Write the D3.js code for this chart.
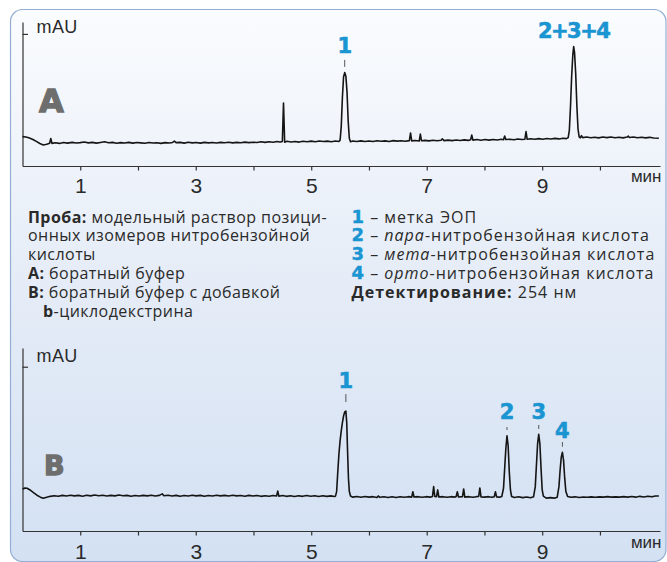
<!DOCTYPE html>
<html>
<head>
<meta charset="utf-8">
<script src="https://cdn.jsdelivr.net/npm/d3@7"></script>
<style>
body { margin: 0; background: #fff; }
svg { display: block; }
</style>
</head>
<body>
<script>
// ось времени, мин
var minuteTicks = [1, 2, 3, 4, 5, 6, 7, 8, 9, 10];
var minuteLabels = [1, 3, 5, 7, 9];

// электрофореграмма A (боратный буфер): [время, мAU]
var traceA = [
  [0.00, 22.2], [0.06, 22.0], [0.12, 21.2], [0.18, 20.1], [0.24, 18.6], [0.30, 17.0], [0.36, 15.9],
  [0.42, 16.5], [0.47, 17.2], [0.49, 20.8], [0.51, 17.1], [0.57, 17.6], [0.64, 17.1], [0.71, 17.8],
  [0.78, 17.3], [0.86, 17.9], [0.93, 17.4], [1.00, 17.7], [1.07, 18.2], [1.14, 17.5], [1.21, 17.9],
  [1.28, 17.3], [1.35, 17.8], [1.42, 18.3], [1.49, 17.6], [1.56, 17.9], [1.63, 17.2], [1.70, 17.7],
  [1.77, 17.4], [1.84, 17.9], [1.91, 17.3], [1.98, 17.8], [2.05, 17.5], [2.12, 17.2], [2.19, 17.8],
  [2.26, 17.4], [2.33, 17.6], [2.40, 17.1], [2.47, 17.7], [2.54, 17.4], [2.60, 17.8], [2.63, 18.8],
  [2.66, 17.7], [2.73, 17.9], [2.80, 17.3], [2.87, 18.0], [2.94, 17.5], [3.01, 17.8], [3.08, 17.3],
  [3.15, 17.9], [3.22, 17.5], [3.29, 17.8], [3.36, 17.4], [3.43, 17.9], [3.50, 17.6], [3.57, 18.0],
  [3.64, 17.5], [3.71, 17.9], [3.78, 17.6], [3.85, 18.1], [3.92, 17.7], [3.99, 18.0], [4.06, 17.8],
  [4.13, 18.3], [4.20, 17.9], [4.27, 18.4], [4.34, 18.0], [4.41, 18.6], [4.46, 18.1], [4.50, 18.5],
  [4.52, 47.7], [4.54, 18.0], [4.58, 18.7], [4.65, 18.2], [4.72, 18.6], [4.79, 18.1], [4.86, 18.7],
  [4.93, 18.3], [5.00, 18.8], [5.07, 18.4], [5.14, 18.9], [5.21, 18.5], [5.28, 18.8], [5.35, 18.4],
  [5.42, 18.9], [5.48, 18.6], [5.50, 19.5], [5.52, 30.0], [5.54, 52.0], [5.56, 67.5], [5.58, 70.7],
  [5.60, 68.0], [5.62, 56.0], [5.64, 34.0], [5.66, 21.0], [5.68, 18.4], [5.72, 18.9], [5.79, 18.5],
  [5.86, 19.0], [5.93, 18.6], [6.00, 18.9], [6.07, 18.5], [6.14, 19.1], [6.21, 18.7], [6.28, 19.0],
  [6.35, 18.6], [6.42, 19.2], [6.49, 18.8], [6.56, 19.1], [6.63, 18.7], [6.70, 19.2], [6.72, 25.0],
  [6.74, 19.0], [6.80, 19.3], [6.87, 18.9], [6.89, 24.2], [6.91, 19.1], [6.97, 19.4], [7.04, 19.0],
  [7.11, 19.5], [7.18, 19.1], [7.25, 19.5], [7.27, 20.6], [7.30, 19.2], [7.37, 19.6], [7.44, 19.2],
  [7.51, 19.7], [7.58, 19.3], [7.65, 19.8], [7.72, 19.4], [7.76, 19.8], [7.78, 23.5], [7.80, 19.6],
  [7.87, 20.0], [7.94, 19.5], [8.01, 20.0], [8.08, 19.6], [8.15, 20.1], [8.22, 19.7], [8.29, 20.2],
  [8.33, 19.9], [8.35, 22.7], [8.37, 20.0], [8.44, 20.3], [8.51, 19.9], [8.58, 20.4], [8.65, 20.0],
  [8.70, 20.3], [8.72, 26.0], [8.74, 20.2], [8.80, 20.6], [8.87, 20.2], [8.94, 20.7], [9.01, 20.3],
  [9.08, 20.8], [9.15, 20.4], [9.22, 20.9], [9.29, 20.5], [9.36, 21.0], [9.42, 20.7], [9.45, 21.5],
  [9.47, 27.0], [9.49, 45.0], [9.51, 68.0], [9.53, 84.0], [9.545, 90.4], [9.56, 86.0], [9.58, 70.0],
  [9.60, 46.0], [9.62, 28.0], [9.64, 22.0], [9.66, 21.3], [9.68, 23.0], [9.70, 21.5], [9.77, 21.9],
  [9.84, 21.4], [9.91, 21.8], [9.98, 21.3], [10.05, 21.9], [10.12, 21.5], [10.19, 21.9], [10.26, 21.4],
  [10.33, 21.8], [10.40, 21.3], [10.47, 21.9], [10.49, 22.6], [10.51, 21.6], [10.58, 21.9], [10.65, 21.4],
  [10.72, 21.8], [10.79, 21.3], [10.86, 21.7], [10.93, 21.2], [11.02, 21.0]
];

// электрофореграмма B (буфер с b-циклодекстрином): [время, мAU]
var traceB = [
  [0.00, 25.6], [0.04, 26.1], [0.08, 26.0], [0.13, 25.0], [0.19, 23.4], [0.25, 21.8], [0.31, 20.6],
  [0.36, 19.9], [0.42, 20.6], [0.48, 21.1], [0.55, 21.5], [0.62, 21.2], [0.69, 21.7], [0.76, 21.3],
  [0.83, 21.8], [0.90, 21.4], [0.97, 21.7], [1.04, 21.2], [1.11, 21.8], [1.18, 21.4], [1.25, 21.9],
  [1.32, 21.5], [1.39, 21.8], [1.46, 21.3], [1.53, 21.7], [1.60, 21.4], [1.67, 21.9], [1.74, 21.5],
  [1.81, 21.7], [1.88, 21.2], [1.95, 21.6], [2.02, 21.3], [2.09, 21.7], [2.16, 21.4], [2.23, 21.8],
  [2.30, 21.3], [2.37, 21.7], [2.42, 22.6], [2.45, 21.5], [2.52, 21.8], [2.59, 21.3], [2.66, 21.7],
  [2.73, 21.2], [2.80, 21.6], [2.87, 21.3], [2.94, 21.8], [3.01, 21.4], [3.08, 21.7], [3.15, 21.2],
  [3.22, 21.6], [3.29, 21.3], [3.36, 21.8], [3.43, 21.4], [3.50, 21.7], [3.57, 21.3], [3.64, 21.8],
  [3.71, 21.4], [3.78, 21.6], [3.85, 21.2], [3.92, 21.7], [3.99, 21.3], [4.06, 21.6], [4.13, 21.1],
  [4.20, 21.5], [4.27, 21.2], [4.34, 21.6], [4.40, 21.3], [4.42, 24.3], [4.44, 21.2], [4.50, 21.6],
  [4.57, 21.1], [4.64, 21.5], [4.71, 21.0], [4.78, 21.5], [4.85, 21.1], [4.92, 21.6], [4.99, 21.2],
  [5.06, 21.5], [5.13, 21.0], [5.20, 21.5], [5.27, 21.1], [5.34, 21.4], [5.40, 21.0], [5.42, 21.2],
  [5.44, 24.0], [5.46, 36.0], [5.48, 47.0], [5.50, 55.0], [5.52, 61.0], [5.54, 66.0], [5.56, 70.0],
  [5.58, 72.5], [5.60, 73.0], [5.615, 66.0], [5.63, 48.0], [5.645, 32.0], [5.66, 24.0], [5.68, 21.3],
  [5.72, 20.6], [5.79, 21.0], [5.86, 20.5], [5.93, 21.0], [6.00, 20.6], [6.07, 20.9], [6.14, 20.4],
  [6.16, 21.3], [6.19, 20.5], [6.26, 20.9], [6.33, 20.4], [6.40, 20.8], [6.47, 20.4], [6.54, 20.9],
  [6.61, 20.5], [6.68, 20.9], [6.74, 20.6], [6.76, 23.9], [6.78, 20.7], [6.85, 20.9], [6.92, 20.5],
  [6.99, 20.9], [7.06, 20.6], [7.10, 21.0], [7.12, 27.0], [7.14, 21.0], [7.17, 20.9], [7.19, 25.0],
  [7.21, 20.7], [7.28, 20.9], [7.35, 20.5], [7.42, 20.9], [7.49, 20.6], [7.51, 21.0], [7.53, 23.9],
  [7.55, 20.7], [7.62, 20.9], [7.64, 25.6], [7.66, 20.6], [7.73, 20.9], [7.80, 20.5], [7.86, 20.9],
  [7.90, 21.0], [7.92, 26.2], [7.94, 20.8], [8.00, 20.6], [8.07, 20.9], [8.13, 20.5], [8.17, 20.9],
  [8.19, 23.9], [8.21, 20.8], [8.26, 20.6], [8.30, 21.0], [8.33, 26.0], [8.35, 38.0], [8.37, 50.0],
  [8.39, 58.0], [8.41, 52.0], [8.43, 36.0], [8.45, 25.0], [8.47, 21.0], [8.52, 20.4], [8.59, 20.8],
  [8.66, 20.3], [8.73, 20.7], [8.80, 20.2], [8.85, 20.8], [8.88, 27.0], [8.90, 40.0], [8.92, 53.0],
  [8.94, 58.9], [8.96, 53.0], [8.98, 38.0], [9.00, 25.0], [9.02, 21.2], [9.07, 20.0], [9.14, 20.3],
  [9.21, 20.0], [9.26, 20.6], [9.29, 27.0], [9.31, 37.0], [9.33, 45.0], [9.35, 47.9], [9.37, 43.0],
  [9.39, 32.0], [9.41, 24.0], [9.44, 21.0], [9.50, 20.5], [9.57, 20.8], [9.64, 20.4], [9.71, 20.7],
  [9.78, 20.5], [9.85, 20.8], [9.92, 20.5], [9.99, 20.8], [10.06, 20.6], [10.13, 20.9], [10.20, 20.6],
  [10.27, 20.8], [10.34, 20.6], [10.41, 20.9], [10.48, 20.6], [10.55, 21.0], [10.62, 20.6], [10.69, 21.1],
  [10.76, 20.7], [10.83, 21.2], [10.90, 20.8], [10.96, 21.3], [11.02, 21.3]
];

// подписи пиков
var peakNamesA = ["1", "2+3+4"];
var peakTimesA = [5.58, 9.545];
var peakMauA = [70.7, 90.4];

var peakNamesB = ["1", "2", "3", "4"];
var peakTimesB = [5.60, 8.39, 8.94, 9.35];
var peakMauB = [73.0, 58.0, 58.9, 47.9];

// текст пояснений
var noteLeft = [
  [["b", "Проба:"], ["n", " модельный раствор позици-"]],
  [["n", "онных изомеров нитробензойной"]],
  [["n", "кислоты"]],
  [["b", "A:"], ["n", " боратный буфер"]],
  [["b", "B:"], ["n", " боратный буфер с добавкой"]],
  [["b", "b"], ["n", "-циклодекстрина"]]
];
var noteRight = [
  [["num", "1"], ["n", " – метка ЭОП"]],
  [["num", "2"], ["n", " – "], ["i", "пара"], ["n", "-нитробензойная кислота"]],
  [["num", "3"], ["n", " – "], ["i", "мета"], ["n", "-нитробензойная кислота"]],
  [["num", "4"], ["n", " – "], ["i", "орто"], ["n", "-нитробензойная кислота"]],
  [["b", "Детектирование:"], ["n", " 254 нм"]]
];

var blue = "#1a95d2";
var ink = "#2a2a2a";

var svg = d3.select("body").append("svg")
  .attr("width", 667)
  .attr("height", 562);

var grad = svg.append("defs").append("linearGradient")
  .attr("id", "bg").attr("x1", 0).attr("y1", 0).attr("x2", 0).attr("y2", 1);
grad.append("stop").attr("offset", "0%").attr("stop-color", "#fafcfe");
grad.append("stop").attr("offset", "50%").attr("stop-color", "#e5ecf7");
grad.append("stop").attr("offset", "100%").attr("stop-color", "#d3e1f3");

svg.append("rect")
  .attr("x", 10.5).attr("y", 9.5)
  .attr("width", 655.5).attr("height", 552)
  .attr("rx", 12)
  .attr("fill", "url(#bg)")
  .attr("stroke", "#93aed2")
  .attr("stroke-width", 1.2);

var x = d3.scaleLinear().domain([0, 11.04]).range([22.5, 660]);

function drawChart(c) {
  var y = d3.scaleLinear().domain([0, c.yMax]).range([c.axisY, c.topY]);
  var g = svg.append("g");

  var xAxis = d3.axisBottom(x)
    .tickValues(minuteTicks)
    .tickSize(4.5)
    .tickSizeOuter(0)
    .tickPadding(c.pad)
    .tickFormat(function(d) { return minuteLabels.indexOf(d) >= 0 ? d : ""; });
  var gx = g.append("g").attr("transform", "translate(0," + c.axisY + ")").call(xAxis);
  gx.selectAll("text")
    .attr("fill", ink)
    .style("font-family", "'Liberation Sans', Arial, sans-serif")
    .style("font-size", "21px");

  var yAxis = d3.axisRight(y).tickValues([100]).tickSize(5.5).tickSizeOuter(0).tickFormat("");
  g.append("g").attr("transform", "translate(" + x(0) + ",0)").call(yAxis);

  g.selectAll(".domain, .tick line").attr("stroke", "#333").attr("stroke-width", 1.2);

  g.append("text")
    .attr("x", 36.5).attr("y", c.mauY)
    .attr("fill", ink)
    .style("font-family", "'Liberation Sans', Arial, sans-serif")
    .style("font-size", "18px")
    .style("letter-spacing", "0.4px")
    .text("mAU");

  g.append("text")
    .attr("x", 661.5).attr("y", c.axisY + c.minY)
    .attr("text-anchor", "end")
    .attr("fill", ink)
    .style("font-family", "'Liberation Sans', Arial, sans-serif")
    .style("font-size", "17px")
    .text("мин");

  g.append("text")
    .attr("x", c.letterX).attr("y", c.letterY)
    .attr("fill", "#6e6e6e")
    .attr("stroke", "#6e6e6e")
    .attr("stroke-width", 1.3)
    .style("font-family", "'DejaVu Sans', sans-serif")
    .style("font-weight", "bold")
    .style("font-size", c.letterSize + "px")
    .text(c.letter);

  var line = d3.line()
    .x(function(d) { return x(d[0]); })
    .y(function(d) { return y(d[1]); });

  g.append("path")
    .datum(c.trace)
    .attr("d", line)
    .attr("fill", "none")
    .attr("stroke", "#151515")
    .attr("stroke-width", 1.6)
    .attr("stroke-linejoin", "round");

  c.names.forEach(function(name, i) {
    var px = x(c.times[i]), top = y(c.mau[i]);
    var lift = c.lift[i];
    if (lift.dash) {
      g.append("line")
        .attr("x1", px).attr("x2", px)
        .attr("y1", top - lift.dash[0]).attr("y2", top - lift.dash[1])
        .attr("stroke", "#555").attr("stroke-width", 1);
    }
    g.append("text")
      .attr("x", px).attr("y", top - lift.label)
      .attr("text-anchor", "middle")
      .attr("fill", blue)
      .attr("stroke", blue)
      .attr("stroke-width", 0.6)
      .style("font-family", "'DejaVu Sans', sans-serif")
      .style("font-weight", "bold")
      .style("font-size", "21px")
      .style("letter-spacing", name.length > 1 ? "-1.5px" : null)
      .text(name);
  });
}

drawChart({
  trace: traceA, yMax: 109, axisY: 166, topY: 22, pad: 7.5,
  mauY: 33.3, minY: 15.7,
  letter: "A", letterX: 39, letterY: 111.7, letterSize: 32,
  names: peakNamesA, times: peakTimesA, mau: peakMauA,
  lift: [{label: 19.7, dash: [12.7, 5.7]}, {label: 8.7}]
});

drawChart({
  trace: traceB, yMax: 111.4, axisY: 531, topY: 348, pad: 8.5,
  mauY: 361.7, minY: 17.3,
  letter: "B", letterX: 44, letterY: 475, letterSize: 27,
  names: peakNamesB, times: peakTimesB, mau: peakMauB,
  lift: [{label: 23, dash: [17, 9]}, {label: 16.7, dash: [8.7, 5.7]},
         {label: 15.3, dash: [9.3, 5.3]}, {label: 14.6, dash: [10.3, 5.6]}]
});

function drawNote(lines, x0, spacing) {
  var t = svg.append("g")
    .style("font-family", "'Open Sans', 'Noto Sans', sans-serif")
    .style("font-size", "16px")
    .attr("fill", ink);
  lines.forEach(function(parts, i) {
    // строка с b-циклодекстрином идёт с отступом
    var indent = parts[0][1] === "b" ? 15 : 0;
    var text = t.append("text")
      .attr("x", x0 + indent)
      .attr("y", 222.5 + 18.8 * i)
      .style("letter-spacing", spacing + "px");
    parts.forEach(function(p) {
      var s = text.append("tspan").text(p[1]);
      if (p[0] === "b") s.style("font-weight", "bold");
      if (p[0] === "i") s.style("font-style", "italic");
      if (p[0] === "num") {
        s.attr("fill", blue)
          .attr("stroke", blue)
          .attr("stroke-width", 0.4)
          .style("font-family", "'DejaVu Sans', sans-serif")
          .style("font-weight", "bold")
          .style("font-size", "18px");
      }
    });
  });
}

drawNote(noteLeft, 28, 0.45);
drawNote(noteRight, 351.5, 1.0);
</script>
</body>
</html>
